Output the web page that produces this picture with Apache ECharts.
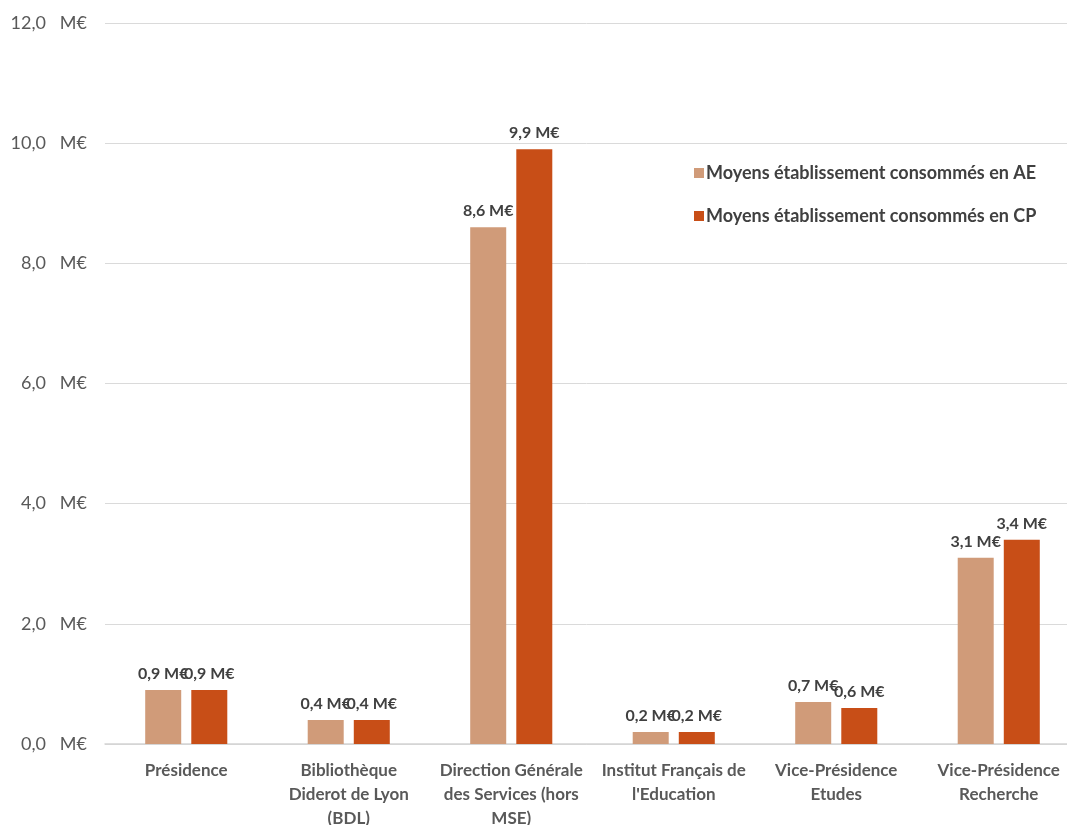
<!DOCTYPE html>
<html>
<head>
<meta charset="utf-8">
<script src="https://cdn.jsdelivr.net/npm/echarts@6/dist/echarts.min.js"></script>
<style>
  html, body { margin: 0; padding: 0; background: #ffffff; }
  #chart { width: 1067px; height: 825px; }
</style>
</head>
<body>
<div id="chart"></div>
<script>
// Budget units (categories) and consumed amounts, in millions of euros
const categories = [
  'Présidence',
  'Bibliothèque\nDiderot de Lyon\n(BDL)',
  'Direction Générale\ndes Services (hors\nMSE)',
  'Institut Français de\nl\'Education',
  'Vice-Présidence\nEtudes',
  'Vice-Présidence\nRecherche'
];
const seriesNames = [
  'Moyens établissement consommés en AE',
  'Moyens établissement consommés en CP'
];
const valuesAE = [0.9, 0.4, 8.6, 0.2, 0.7, 3.1];
const valuesCP = [0.9, 0.4, 9.9, 0.2, 0.6, 3.4];

const colorAE = '#d09b79';
const colorCP = '#c84e17';
const textDark = '#404040';
const textGray = '#595959';
const fontFamily = 'Lato, "Open Sans", sans-serif';

const fmt = v => v.toFixed(1).replace('.', ',');

const labelStyle = {
  show: true,
  position: 'top',
  distance: 8,
  color: textDark,
  fontWeight: 'bold',
  fontSize: 16,
  fontFamily: fontFamily,
  formatter: p => fmt(p.value) + ' M€'
};

const chart = echarts.init(document.getElementById('chart'), null, { renderer: 'canvas' });
chart.setOption({
  animation: false,
  backgroundColor: '#ffffff',
  textStyle: { fontFamily: fontFamily },
  grid: {
    left: 105, top: 23, bottom: 81, right: -13,
    containLabel: false,
    outerBoundsMode: 'none'
  },
  legend: {
    orient: 'vertical',
    left: 689,
    top: 159,
    itemWidth: 10,
    itemHeight: 10,
    itemGap: 25,
    icon: 'rect',
    textStyle: { color: textDark, fontSize: 18, fontWeight: 'bold', fontFamily: fontFamily, padding: [0, 0, 0, -3] },
    data: seriesNames
  },
  xAxis: {
    type: 'category',
    data: categories,
    axisLine: { lineStyle: { color: '#d4d4d4', width: 1.5 } },
    axisTick: { show: false },
    axisLabel: {
      color: textGray,
      fontSize: 17,
      fontWeight: 'bold',
      lineHeight: 24,
      margin: 15,
      interval: 0,
      fontFamily: fontFamily
    }
  },
  yAxis: {
    type: 'value',
    min: 0,
    max: 12,
    interval: 2,
    axisLine: { show: false },
    axisTick: { show: false },
    splitLine: { lineStyle: { color: '#dadada', width: 1 } },
    axisLabel: {
      color: textGray,
      fontSize: 18,
      margin: 18,
      fontFamily: fontFamily,
      formatter: v => fmt(v) + '   M€'
    }
  },
  series: [
    {
      name: seriesNames[0],
      type: 'bar',
      data: valuesAE,
      barWidth: 36,
      barGap: '28%',
      itemStyle: { color: colorAE },
      label: labelStyle
    },
    {
      name: seriesNames[1],
      type: 'bar',
      data: valuesCP,
      barWidth: 36,
      barGap: '28%',
      itemStyle: { color: colorCP },
      label: labelStyle
    }
  ]
});
</script>
</body>
</html>
